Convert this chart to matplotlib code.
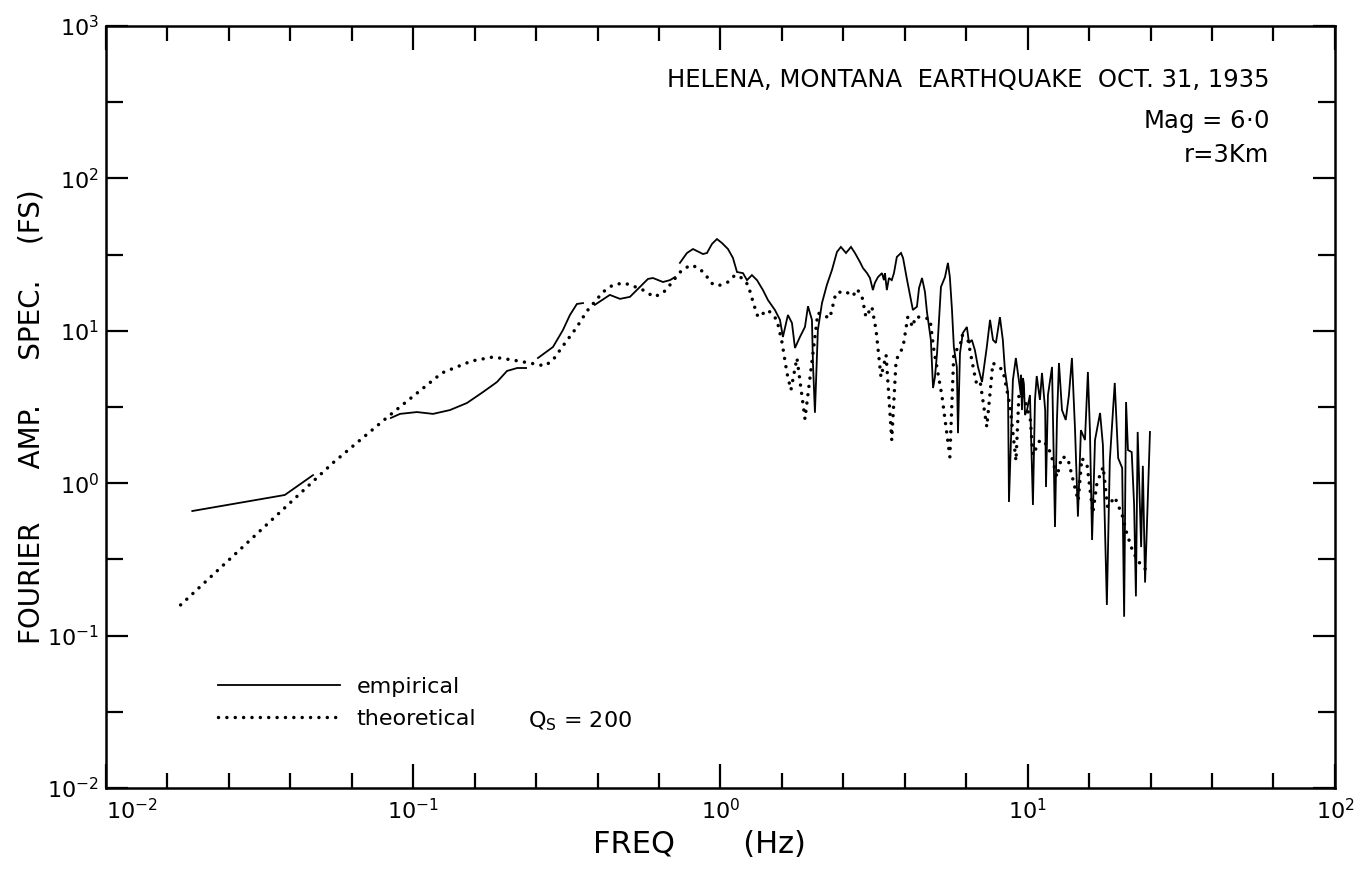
import numpy as np
import matplotlib
matplotlib.use("Agg")
import matplotlib.pyplot as plt
from matplotlib.ticker import FixedLocator, NullFormatter, LogFormatterSciNotation

nan = np.nan

# ---------------- data ----------------
freq_emp = [0.0191, 0.0382, 0.0472, nan,
            0.0846, 0.0906, 0.1028, 0.116, 0.1317, 0.1496, 0.1686, 0.1873, 0.2019, 0.218, 0.233, nan,
            0.2547, 0.285, 0.307, 0.3237, 0.341, 0.357, nan,
            0.390, 0.4115, 0.4365, 0.471, 0.5075, 0.547, 0.581, 0.603, 0.650, 0.685, 0.711, nan,
            0.738, 0.778, 0.814, 0.877, 0.904, 0.938, 0.974, 1.011, 1.058, 1.098,
            1.132, 1.184, 1.22, 1.266, 1.315, 1.375, 1.428, 1.504, 1.562, 1.597,
            1.658, 1.709, 1.748, 1.814, 1.884, 1.927, 1.985, 2.0, 2.03, 2.075,
            2.14, 2.22, 2.307, 2.394, 2.466, 2.562, 2.66, 2.74, 2.844, 2.91,
            3.0, 3.066, 3.135, 3.18, 3.255, 3.355, 3.405, 3.43, 3.48, 3.535,
            3.61, 3.67, 3.75, 3.87, 3.93, 4.05, 4.17, 4.23, 4.36, 4.43,
            4.53, 4.63, 4.70, 4.84, 4.92, 4.99, 5.07, 5.22, 5.38, 5.50,
            5.58, 5.67, 5.75, 5.88, 5.93, 6.02, 6.15, 6.34, 6.44, 6.58,
            6.73, 6.89, 7.10, 7.21, 7.36, 7.54, 7.71, 7.88, 8.12, 8.30,
            8.43, 8.63, 8.69, 8.95, 9.15, 9.50, 9.51, 9.58, 9.65, 9.72,
            9.80, 9.95, 10.17, 10.4, 10.56, 10.7, 10.96, 11.13, 11.4, 11.47,
            11.64, 12.0, 12.27, 12.45, 12.64, 12.93, 13.3, 13.62, 13.93, 14.26,
            14.57, 14.9, 15.36, 15.7, 15.94, 16.2, 16.56, 17.2, 17.57, 18.1,
            18.5, 19.2, 19.7, 20.3, 20.6, 20.9, 21.2, 21.8, 22.2, 22.5,
            22.8, 23.4, 23.7, 24.1, 25.0]
amp_emp = [0.657, 0.837, 1.13, nan,
           2.68, 2.85, 2.93, 2.85, 3.02, 3.36, 3.96, 4.61, 5.45, 5.70, 5.70, nan,
           6.63, 7.83, 10.1, 12.7, 15.0, 15.2, nan,
           14.8, 15.9, 17.2, 16.2, 16.7, 19.4, 21.9, 22.2, 20.9, 21.5, 22.5, nan,
           27.9, 32.4, 34.4, 31.9, 32.4, 37.1, 40.0, 37.7, 34.4, 30.1,
           24.3, 23.9, 21.5, 23.2, 21.5, 18.5, 15.9, 13.7, 11.8, 9.11,
           12.7, 11.25, 7.71, 9.11, 10.6, 14.5, 11.8, 6.15, 2.90, 10.1,
           15.2, 20.0, 25.1, 32.9, 35.5, 32.4, 35.5, 32.4, 28.3, 25.8,
           23.9, 22.2, 18.5, 20.6, 22.5, 23.9, 21.5, 23.9, 18.5, 22.2,
           21.5, 23.9, 30.5, 32.4, 30.0, 21.5, 15.9, 13.7, 14.4, 19.1,
           22.2, 18.0, 13.3, 8.71, 4.21, 4.98, 7.15, 19.4, 22.5, 27.9,
           22.5, 13.7, 7.83, 5.79, 2.13, 7.15, 9.67, 10.6, 8.32, 8.71,
           7.48, 5.79, 4.61, 5.79, 7.83, 11.8, 8.71, 8.32, 12.3, 8.71,
           5.53, 3.91, 0.753, 4.75, 6.63, 3.79, 5.14, 3.02, 4.90, 4.48,
           2.80, 3.02, 3.79, 0.72, 3.52, 5.05, 3.52, 5.29, 3.02, 0.944,
           3.79, 5.79, 0.516, 2.60, 6.15, 3.02, 2.60, 3.79, 6.63, 2.23,
           0.604, 2.23, 1.92, 5.37, 2.23, 0.424, 1.92, 2.89, 1.78, 0.159,
           1.40, 4.55, 1.46, 1.26, 0.133, 3.41, 1.65, 1.60, 0.72, 0.181,
           2.17, 0.381, 1.30, 0.223, 2.17]

freq_th = [0.0175, 0.0548, 0.084, 0.124, 0.155, 0.182, 0.211, 0.249, 0.268, 0.285,
           0.307, 0.339, 0.368, 0.415, 0.447, 0.485, 0.519, 0.560, 0.608, 0.650,
           0.685, 0.717, 0.750, 0.802, 0.851, 0.897, 0.931, 0.981, 1.058, 1.115,
           1.175, 1.23, 1.285, 1.325, 1.428, 1.527, 1.585, 1.646, 1.696, 1.774,
           1.884, 2.075, 2.27, 2.375, 2.54, 2.70, 2.78, 2.887, 2.975, 3.11,
           3.21, 3.33, 3.46, 3.61, 3.73, 3.93, 4.07, 4.23, 4.30, 4.53,
           4.81, 4.95, 5.26, 5.58, 5.75, 6.02, 6.11, 6.39, 6.79, 6.99,
           7.36, 7.59, 7.70, 8.30, 8.75, 9.16, 9.37, 9.80, 10.2, 10.4,
           10.96, 11.6, 12.0, 12.45, 12.9, 13.5, 14.0, 14.6, 15.0, 15.6,
           16.3, 16.8, 17.6, 18.2, 19.2, 20.3, 21.0, 22.0, 23.0, 24.3]
amp_th = [0.159, 1.36, 2.80, 5.29, 6.34, 6.73, 6.43, 6.06, 5.88, 6.43,
          7.95, 10.4, 13.5, 18.0, 20.0, 20.6, 19.7, 18.5, 16.7, 17.7,
          20.0, 22.5, 25.1, 27.0, 25.8, 23.2, 20.6, 19.7, 20.9, 23.2,
          22.2, 20.0, 14.8, 12.3, 13.7, 11.8, 8.45, 5.29, 4.09, 6.63,
          2.64, 13.1, 12.1, 17.7, 18.2, 16.9, 18.8, 16.9, 12.3, 14.4,
          10.1, 4.98, 6.94, 1.92, 6.43, 7.83, 12.3, 10.6, 12.3, 12.3,
          11.9, 7.48, 3.73, 1.49, 7.26, 7.83, 9.38, 8.71, 4.61, 4.75,
          2.34, 4.47, 6.15, 5.53, 3.26, 1.40, 3.91, 3.52, 2.60, 1.53,
          1.92, 1.78, 1.46, 1.10, 1.49, 1.46, 1.08, 0.767, 1.46, 1.32,
          0.639, 1.0, 1.28, 0.698, 0.812, 0.618, 0.471, 0.354, 0.304, 0.269]

x_limits = (1e-2, 1e2)
y_limits = (1e-2, 1e3)

title_text = "HELENA, MONTANA  EARTHQUAKE  OCT. 31, 1935"
mag_text = "Mag = 6$\\cdot$0"
r_text = "r=3Km"
xlabel_text = "FREQ       (Hz)"
ylabel_text = "FOURIER      AMP.     SPEC.    (FS)"
legend_labels = ["empirical", "theoretical"]
q_text = "Q$_{\\rm S}$ = 200"

assert len(freq_emp) == len(amp_emp)
assert len(freq_th) == len(amp_th)

# ---------------- fonts ----------------
plt.rcParams["font.family"] = ["DejaVu Sans"]
plt.rcParams["mathtext.fontset"] = "dejavusans"

# ---------------- figure ----------------
fig = plt.figure(figsize=(13.55, 8.72), dpi=100)
ax = fig.add_axes([0.0782, 0.0963, 0.9070, 0.8739])
ax.set_xscale("log")
ax.set_yscale("log")
ax.set_xlim(*x_limits)
ax.set_ylim(*y_limits)

l_emp, = ax.plot(freq_emp, amp_emp, color="black", lw=1.3, solid_joinstyle="miter")
l_th, = ax.plot(freq_th, amp_th, color="black", lw=2.5,
                linestyle=(0, (0.01, 2.4)), dash_capstyle="round")

# ticks
ax.xaxis.set_major_locator(FixedLocator([1e-2, 1e-1, 1e0, 1e1, 1e2]))
ax.yaxis.set_major_locator(FixedLocator([1e-2, 1e-1, 1e0, 1e1, 1e2, 1e3]))
ax.xaxis.set_minor_locator(FixedLocator([10 ** (k / 5) for k in range(-10, 11) if k % 5]))
ax.yaxis.set_minor_locator(FixedLocator([10 ** (k / 2) for k in range(-4, 7) if k % 2]))
ax.xaxis.set_minor_formatter(NullFormatter())
ax.yaxis.set_minor_formatter(NullFormatter())
ax.xaxis.set_major_formatter(LogFormatterSciNotation())
ax.yaxis.set_major_formatter(LogFormatterSciNotation())
ax.tick_params(which="both", direction="in", top=True, right=True, width=1.6, labelsize=16)
ax.tick_params(axis="x", which="major", length=17, pad=7)
ax.tick_params(axis="x", which="minor", length=11)
ax.tick_params(axis="y", which="major", length=16, pad=5)
ax.tick_params(axis="y", which="minor", length=12)
for s in ax.spines.values():
    s.set_linewidth(1.8)

# labels
ax.set_xlabel(xlabel_text, fontsize=22)
ax.xaxis.set_label_coords(0.483, -0.055)
ax.set_ylabel(ylabel_text, fontsize=20)
ax.yaxis.set_label_coords(-0.049, 0.487)

# annotations
ax.text(0.947, 0.920, title_text, transform=ax.transAxes, ha="right", va="baseline", fontsize=17.5)
ax.text(0.946, 0.866, mag_text, transform=ax.transAxes, ha="right", va="baseline", fontsize=17.5)
ax.text(0.946, 0.8215, r_text, transform=ax.transAxes, ha="right", va="baseline", fontsize=17.5)

leg = ax.legend([l_emp, l_th], legend_labels, loc="upper left", bbox_to_anchor=(0.091, 0.146),
                frameon=False, fontsize=16, handlelength=5.5, handletextpad=0.75,
                labelspacing=0.55, borderpad=0, borderaxespad=0)
ax.text(0.343, 0.080, q_text, transform=ax.transAxes, ha="left", va="baseline", fontsize=16)

# first x tick label sits to the right of its tick, as in the reference
fig.canvas.draw()
xt = ax.get_xticklabels()
if xt:
    xt[0].set_horizontalalignment("left")

fig.savefig("out.png", dpi=100)
